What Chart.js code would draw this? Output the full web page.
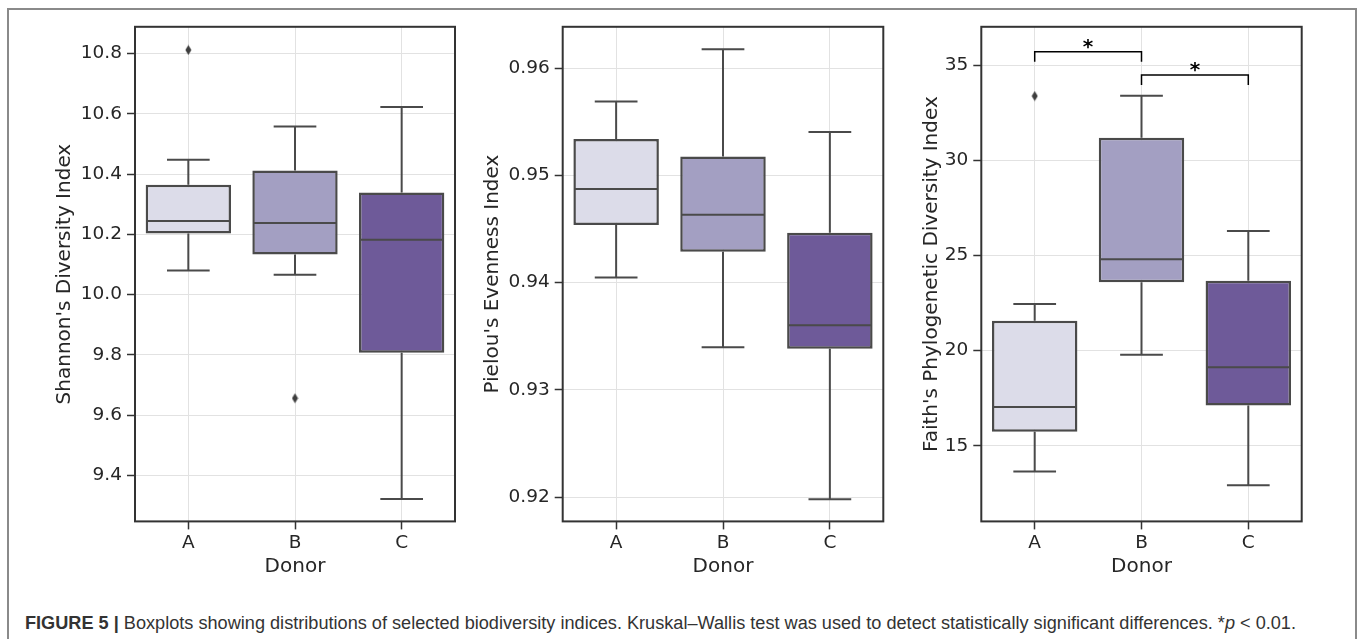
<!DOCTYPE html>
<html><head><meta charset="utf-8">
<script src="https://cdn.jsdelivr.net/npm/chart.js@4.4.1/dist/chart.umd.min.js"></script>
<style>
html,body{margin:0;padding:0;background:#fff;}
body{width:1358px;height:639px;position:relative;overflow:hidden;}
#frame{position:absolute;left:7px;top:8px;width:1350px;height:640px;border:2px solid #8a8a8a;border-bottom:none;box-sizing:border-box;}
canvas{position:absolute;top:0;}
#caption{position:absolute;left:25px;top:614px;font-family:'Liberation Sans',Arial,sans-serif;font-size:15px;line-height:18px;color:#333;white-space:nowrap;}
</style></head><body>
<div id="frame"></div>
<canvas id="c1" width="470" height="600" style="left:0px"></canvas>
<canvas id="c2" width="450" height="600" style="left:450px"></canvas>
<canvas id="c3" width="440" height="600" style="left:900px"></canvas>
<div id="caption"><b>FIGURE 5 |</b> Boxplots showing distributions of selected biodiversity indices. Kruskal–Wallis test was used to detect statistically significant differences. *<i>p</i> &lt; 0.01.</div>
<script>
// ---- data ----
const categories = ['A', 'B', 'C'];

const shannonMin    = [10.080, 10.066, 9.321];
const shannonQ1     = [10.203, 10.133, 9.807];
const shannonMedian = [10.244, 10.238, 10.182];
const shannonQ3     = [10.365, 10.412, 10.339];
const shannonMax    = [10.448, 10.558, 10.623];
const shannonOutliers = [10.812, 9.656, null];
const shannonTicks  = [9.4, 9.6, 9.8, 10.0, 10.2, 10.4, 10.6, 10.8];
const shannonRange  = [9.247, 10.889];

const pielouMin    = [0.94049, 0.93398, 0.91980];
const pielouQ1     = [0.94538, 0.94288, 0.93383];
const pielouMedian = [0.94875, 0.94634, 0.93603];
const pielouQ3     = [0.95340, 0.95177, 0.94465];
const pielouMax    = [0.95690, 0.96177, 0.95406];
const pielouOutliers = [null, null, null];
const pielouTicks  = [0.92, 0.93, 0.94, 0.95, 0.96];
const pielouRange  = [0.91773, 0.96387];

const faithMin    = [13.65, 19.79, 12.92];
const faithQ1     = [15.74, 23.59, 17.12];
const faithMedian = [17.03, 24.80, 19.13];
const faithQ3     = [21.57, 31.19, 23.67];
const faithMax    = [22.45, 33.41, 26.29];
const faithOutliers = [33.39, null, null];
const faithTicks  = [15, 20, 25, 30, 35];
const faithRange  = [11.02, 37.03];

// significance brackets: from index, to index, bar level, tick end level
const faithBracketFrom = [0, 1];
const faithBracketTo   = [1, 2];
const faithBracketTop  = [35.72, 34.50];
const faithBracketEnd  = [35.19, 33.97];
const faithBracketText = ['*', '*'];

// ---- styles ----
const boxColors = ['#dcdce9', '#a39fc2', '#6e5a99'];
const lineColor = '#4a4a4a';
const textColor = '#262626';
const gridColor = '#e2e2e2';
const FONT = 'DejaVu Sans';
const TICK_SIZE = 18.5;
const TITLE_SIZE = 20;

function diamond() {
  const c = document.createElement('canvas');
  c.width = 7; c.height = 11;
  const g = c.getContext('2d');
  g.fillStyle = '#3d3d3d';
  g.beginPath();
  g.moveTo(3.5, 0.5); g.lineTo(6.5, 5.5); g.lineTo(3.5, 10.5); g.lineTo(0.5, 5.5);
  g.closePath(); g.fill();
  return c;
}
const diamondImg = diamond();

const framePlugin = {
  id: 'frame',
  afterDraw(chart) {
    const {ctx, chartArea: a} = chart;
    ctx.save();
    ctx.strokeStyle = '#333';
    ctx.lineWidth = 2;
    ctx.strokeRect(a.left, a.top, a.right - a.left, a.bottom - a.top);
    ctx.restore();
  }
};

const whiskerPlugin = {
  id: 'whiskers',
  afterDatasetsDraw(chart) {
    const st = chart.options.plugins.whiskers;
    if (!st) return;
    const {ctx} = chart;
    const y = chart.scales.y;
    const meta = chart.getDatasetMeta(0);
    ctx.save();
    ctx.strokeStyle = lineColor;
    ctx.lineWidth = 2;
    meta.data.forEach((el, i) => {
      const x = el.x, hw = el.width / 2;
      const yMin = y.getPixelForValue(st.min[i]);
      const yQ1 = y.getPixelForValue(st.q1[i]);
      const yMed = y.getPixelForValue(st.med[i]);
      const yQ3 = y.getPixelForValue(st.q3[i]);
      const yMax = y.getPixelForValue(st.max[i]);
      ctx.beginPath();
      ctx.moveTo(x, yQ1); ctx.lineTo(x, yMin);
      ctx.moveTo(x - hw / 2, yMin); ctx.lineTo(x + hw / 2, yMin);
      ctx.moveTo(x, yQ3); ctx.lineTo(x, yMax);
      ctx.moveTo(x - hw / 2, yMax); ctx.lineTo(x + hw / 2, yMax);
      ctx.stroke();
      ctx.beginPath();
      ctx.moveTo(x - hw + 1, yMed); ctx.lineTo(x + hw - 1, yMed);
      ctx.stroke();
    });
    ctx.restore();
  }
};

const bracketPlugin = {
  id: 'brackets',
  afterDraw(chart) {
    const st = chart.options.plugins.brackets;
    if (!st) return;
    const {ctx} = chart;
    const x = chart.scales.x, y = chart.scales.y;
    ctx.save();
    ctx.strokeStyle = '#000';
    ctx.lineWidth = 1.5;
    ctx.fillStyle = '#000';
    ctx.font = 'bold 20px "' + FONT + '"';
    ctx.textAlign = 'center';
    ctx.textBaseline = 'alphabetic';
    st.from.forEach((f, i) => {
      const x1 = x.getPixelForValue(f), x2 = x.getPixelForValue(st.to[i]);
      const yt = y.getPixelForValue(st.top[i]), ye = y.getPixelForValue(st.end[i]);
      ctx.beginPath();
      ctx.moveTo(x1, ye); ctx.lineTo(x1, yt); ctx.lineTo(x2, yt); ctx.lineTo(x2, ye);
      ctx.stroke();
      const m = ctx.measureText(st.text[i]);
      const center = yt - 7.5;
      const base = center + (m.actualBoundingBoxAscent - m.actualBoundingBoxDescent) / 2;
      ctx.fillText(st.text[i], (x1 + x2) / 2, base);
    });
    ctx.restore();
  }
};

function makePanel(id, p) {
  const plugins = {
    legend: {display: false},
    tooltip: {enabled: false},
    whiskers: {min: p.min, q1: p.q1, med: p.med, q3: p.q3, max: p.max},
    brackets: p.brackets || null
  };
  return new Chart(document.getElementById(id), {
    type: 'bar',
    data: {
      labels: categories,
      datasets: [
        {
          type: 'bar',
          data: p.q1.map((v, i) => [v, p.q3[i]]),
          backgroundColor: boxColors,
          borderColor: lineColor,
          borderWidth: 2.5,
          borderSkipped: false,
          barPercentage: 0.8,
          categoryPercentage: 1.0,
          order: 2
        },
        {
          type: 'line',
          data: p.outliers,
          showLine: false,
          pointStyle: diamondImg,
          pointRadius: 5,
          order: 1
        }
      ]
    },
    options: {
      responsive: false,
      animation: false,
      events: [],
      layout: {padding: {top: 26.8, right: p.padRight, left: 0, bottom: 0}},
      plugins: plugins,
      scales: {
        x: {
          type: 'category',
          offset: true,
          grid: {offset: false, color: gridColor, lineWidth: 1, tickColor: '#333', tickLength: 8, tickWidth: 1.5},
          border: {display: false},
          ticks: {font: {family: FONT, size: TICK_SIZE}, color: textColor, padding: 2.5, maxRotation: 0},
          title: {display: true, text: 'Donor', font: {family: FONT, size: TITLE_SIZE}, color: textColor, padding: {top: 0, bottom: 21.3}},
          afterFit: s => { s.height = 600 - 521.4; }
        },
        y: {
          type: 'linear',
          min: p.range[0],
          max: p.range[1],
          afterBuildTicks: s => { s.ticks = p.ticks.map(v => ({value: v})); },
          afterFit: s => { s.width = p.axisWidth; },
          grid: {color: gridColor, lineWidth: 1, tickColor: '#333', tickLength: 8, tickWidth: 1.5},
          border: {display: false},
          ticks: {font: {family: FONT, size: TICK_SIZE}, color: textColor, padding: 5,
                  callback: v => Number(v).toFixed(p.decimals)},
          title: {display: true, text: p.title, font: {family: FONT, size: TITLE_SIZE}, color: textColor,
                  padding: {top: p.titlePad, bottom: 0}}
        }
      }
    },
    plugins: [whiskerPlugin, framePlugin, bracketPlugin]
  });
}

makePanel('c1', {
  min: shannonMin, q1: shannonQ1, med: shannonMedian, q3: shannonQ3, max: shannonMax,
  outliers: shannonOutliers, ticks: shannonTicks, range: shannonRange, decimals: 1,
  title: "Shannon's Diversity Index", axisWidth: 135, padRight: 15, titlePad: 53
});
makePanel('c2', {
  min: pielouMin, q1: pielouQ1, med: pielouMedian, q3: pielouQ3, max: pielouMax,
  outliers: pielouOutliers, ticks: pielouTicks, range: pielouRange, decimals: 2,
  title: "Pielou's Evenness Index", axisWidth: 112.7, padRight: 16.7, titlePad: 30.7
});
makePanel('c3', {
  min: faithMin, q1: faithQ1, med: faithMedian, q3: faithQ3, max: faithMax,
  outliers: faithOutliers, ticks: faithTicks, range: faithRange, decimals: 0,
  title: "Faith's Phylogenetic Diversity Index", axisWidth: 81.3, padRight: 38.3, titlePad: 19.7,
  brackets: {from: faithBracketFrom, to: faithBracketTo, top: faithBracketTop, end: faithBracketEnd, text: faithBracketText}
});

// fit caption to the reference text width
(function () {
  const cap = document.getElementById('caption');
  const target = 1272;
  const w = cap.getBoundingClientRect().width;
  cap.style.fontSize = (15 * target / w).toFixed(2) + 'px';
})();
</script>
</body></html>
